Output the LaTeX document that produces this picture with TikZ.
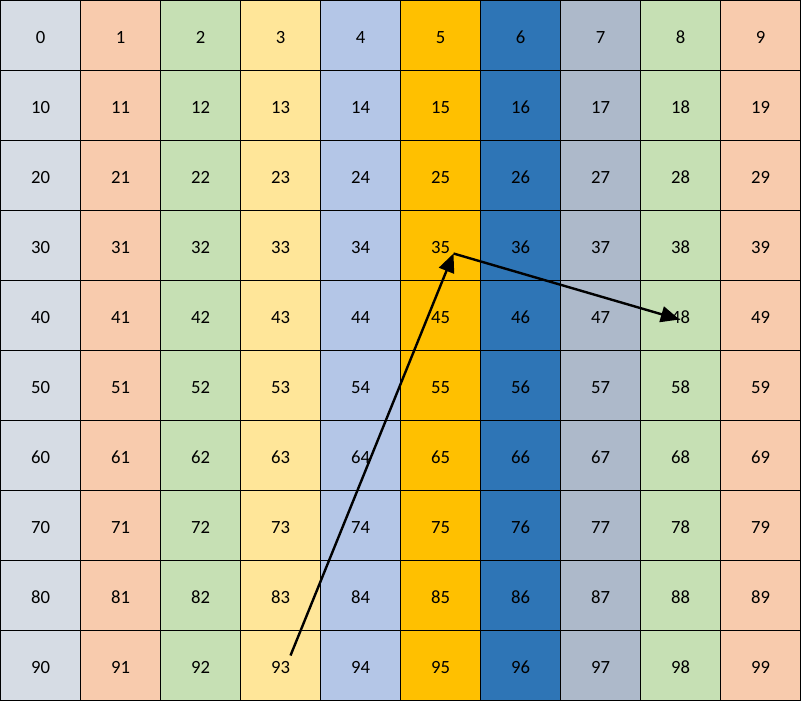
\documentclass[tikz,border=0pt]{standalone}
\usepackage{fontspec}
\setmainfont{Carlito}
\usetikzlibrary{arrows.meta}

\definecolor{colzero}{HTML}{D6DCE4}
\definecolor{colone}{HTML}{F8CBAD}
\definecolor{coltwo}{HTML}{C6E0B4}
\definecolor{colthree}{HTML}{FFE699}
\definecolor{colfour}{HTML}{B4C6E7}
\definecolor{colfive}{HTML}{FFC000}
\definecolor{colsix}{HTML}{2E75B6}
\definecolor{colseven}{HTML}{ADB9CA}

\begin{document}
\begin{tikzpicture}[x=0.75pt, y=-0.75pt,
  cell/.style={draw=black, line width=0.75pt, minimum width=60pt, minimum height=52.5pt,
    inner sep=0pt, text height=11.8pt, text depth=0pt, font=\fontsize{14}{14}\selectfont},
  jump/.style={line width=1.8pt, -{Triangle[length=14pt, width=12pt]}}]
  \useasboundingbox (-0.5,-0.5) rectangle (800.5,700.5);

  % the hundred cells
  \foreach \r in {0,...,9}{
    \foreach \k/\kol in {0/colzero, 1/colone, 2/coltwo, 3/colthree, 4/colfour,
                         5/colfive, 6/colsix, 7/colseven, 8/coltwo, 9/colone}{
      \pgfmathtruncatemacro\n{10*\r+\k}
      \node[cell, fill=\kol] (c\n) at (\k*80+40, \r*70+35) {\n};
    }
  }

  % the moves
  \coordinate (s93) at ([shift={(10,-10)}]c93.center);
  \coordinate (t35) at ([shift={(13,8)}]c35.center);
  \coordinate (t48) at ([shift={(-1,4)}]c48.center);
  \draw[jump] (s93) -- (t35);
  \draw[jump] (t35) -- (t48);
\end{tikzpicture}
\end{document}
